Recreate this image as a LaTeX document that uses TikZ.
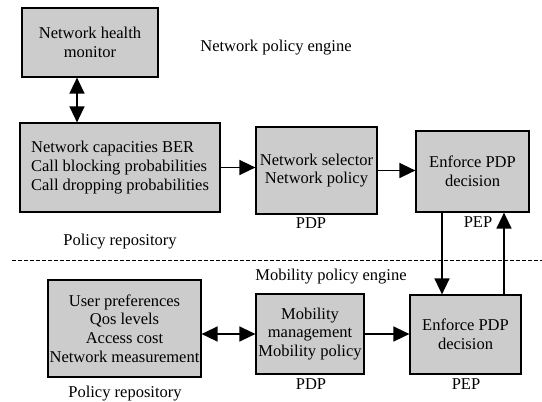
\documentclass[tikz,border=0pt]{standalone}
\usepackage{fontspec}
\setmainfont{Liberation Serif}
\usetikzlibrary{arrows.meta}

\begin{document}
\begin{tikzpicture}[x=1pt,y=-1pt,line width=1.4pt,
    font=\fontsize{16.5}{18.7}\selectfont,
    >={Triangle[length=16pt,width=15pt]}]
        \tikzstyle{block}=[draw,line width=1.2pt,fill=black!20,inner sep=1pt,align=center]
        \tikzstyle{tag}=[inner sep=0pt]
        \useasboundingbox (0,0) rectangle (542,402);

        \foreach \name/\x/\y/\w/\h/\lbl in {mon/90/42.5/136/69/Network health\\monitor,
                                            sel/316.5/170.5/121/87/Network selector\\Network policy,
                                            enfN/472.5/171.5/113/81/Enforce PDP\\decision,
                                            pref/124.5/328.5/153/97/User preferences\\Qos levels\\Access cost\\Network measurement,
                                            mob/310/334/108/80/Mobility\\management\\Mobility policy,
                                            enfM/465.5/334.5/111/79/Enforce PDP\\decision}
          \node[block,minimum width=\w pt,minimum height=\h pt] (\name) at (\x,\y) {\lbl};
        \node[block,align=left,minimum width=200pt,minimum height=89pt] (cap) at (120,167.5)
          {Network capacities BER\\Call blocking probabilities\\Call dropping probabilities};

        \foreach \name/\x/\y/\lbl in {netengine/276/48/Network policy engine, netrepo/120/242/Policy repository,
                                      netpdp/311/223/PDP, netpep/478/222/PEP,
                                      mobengine/331/277/Mobility policy engine, mobrepo/125/394/Policy repository,
                                      mobpdp/311/384/PDP, mobpep/466/384/PEP}
          \node[tag] (\name) at (\x,\y) {\lbl};

        % divider between the two engines
        \draw[line width=1pt,dash pattern=on 4pt off 2pt] (12,260) -- (542,260);

        \coordinate (m1) at ([xshift=-13pt]mon.south);
        \coordinate (d1) at ([xshift=-30.5pt]enfN.south);
        \coordinate (u1) at ([xshift=38.5pt]enfM.north);
        \draw[<->] (m1) -- (m1 |- cap.north);
        \draw[->] (cap.east) -- (cap.east -| sel.west);
        \draw[->] (sel.east) -- (sel.east -| enfN.west);
        \draw[<->] (mob.west -| pref.east) -- (mob.west);
        \draw[->] (mob.east) -- (mob.east -| enfM.west);
        \draw[->] (d1) -- (d1 |- enfM.north);
        \draw[->] (u1) -- (u1 |- enfN.south);
\end{tikzpicture}
\end{document}
